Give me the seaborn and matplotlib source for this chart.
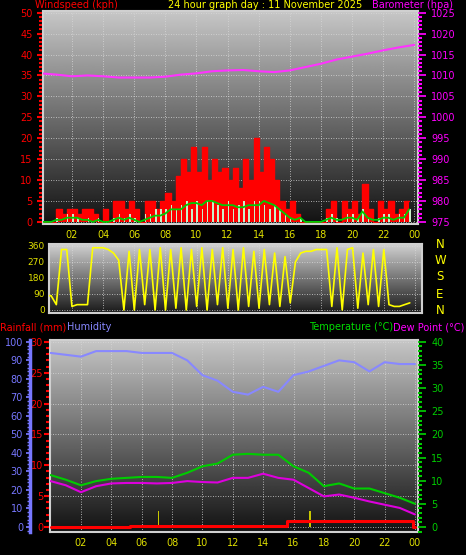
import numpy as np
import pandas as pd
import matplotlib
matplotlib.use("Agg")
import matplotlib.pyplot as plt
import seaborn as sns
from matplotlib.ticker import MultipleLocator

sns.set_theme(style="dark")
plt.rcParams['font.family'] = ['DejaVu Sans']

# ---- data ----
wind_hours = [i / 3 for i in range(72)]
gust = [0,0,0, 3,2,3, 3,2,3, 3,2,0, 3,0,5, 5,3,5, 3,0,5, 5,3,5,
        7,5,11, 15,12,18, 12,18,10, 15,12,13, 10,13,8, 15,10,20,
        12,18,15, 10,5,3, 5,2,0, 0,0,0, 0,3,5, 0,5,3, 5,2,9, 3,0,5,
        3,5,2, 3,5,5]
avg_wind = [0,0,0, 0.5,0.5,1, 1,1,0.5, 0.5,0,0.5, 0,0,0.5, 1,0.5,1, 0.5,0,0.5,
            1,1.5,1.5, 2,3,3, 3,4,4.5, 4.5,4,5, 5,4.5,4, 4,4,3.5, 3.5,4,4,
            4,5,4.5, 4,3,2, 1,0.5,1, 0,0,0, 0,0.5,1, 0.5,0.5,1, 1,0.5,2.5,
            1,0.5,0.5, 1,1,0.5, 1,1,3]
wind_speed = [0,0,0, 1,0,2, 2,1,0, 1,0,1, 0,0,1, 2,1,2, 1,0,2, 2,3,3,
              3,4,3, 4,5,3, 5,3,5, 5,4,3, 5,3,4, 5,3,5, 5,4,3, 4,3,2,
              1,0,1, 0,0,0, 0,1,2, 1,0,2, 2,1,3, 1,0,1, 2,2,0, 2,2,3]
direction = [80,80,80, 30,340,340, 20,30,30, 30,350,350, 350,340,320, 280,0,330,
             0,340,30, 340,0,350, 0,340,10, 350,0,340, 20,350,0, 340,30,350,
             10,340,0, 350,20,330, 10,340,30, 320,20,300, 40,270,320, 330,330,340,
             340,340,20, 350,0,340, 350,10,320, 30,340,20, 340,30,20, 20,30,40]
hours = list(range(25))
baro = [1010.5,1010.2,1009.8,1010,1009.8,1009.5,1009.5,1009.5,1009.7,1010.2,1010.5,
        1011,1011.2,1011.3,1011,1010.8,1011.2,1012,1012.8,1013.8,1014.5,1015.2,
        1016,1016.7,1017.3]
humidity = [94,93,92,95,95,95,94,94,94,90,82,79,73,71.5,75.7,73,82,84,87,90,89,84,89,88,88]
temperature = [11.2,10.2,9,9.9,10.4,10.6,10.8,10.8,10.6,11.7,13.1,13.7,15.6,15.8,15.6,
               15.6,13.1,11.7,8.8,9.4,8.3,8.3,7.3,6.3,5.0]
dew_point = [9.9,9,7.5,8.8,9.4,9.5,9.5,9.4,9.5,9.9,9.7,9.6,10.6,10.6,11.5,10.6,10.2,
             8.4,6.6,7,6.3,5.5,4.8,4.1,2.7]
rain_hours = [0, 5.2, 15.6, 23.9, 24]
rainfall = [0, 0.1, 1.0, 0, 0]
rate_hours = [7.1, 17.1]
rain_rate = [2.5, 2.5]

hour_ticks = list(range(2, 25, 2))
hour_labels = ["02","04","06","08","10","12","14","16","18","20","22","00"]

W, H = 466, 555
fig = plt.figure(figsize=(W/100, H/100), dpi=100, facecolor="black")

def pos(x0, y0, x1, y1):
    return [x0/W, 1 - y1/H, (x1-x0)/W, (y1-y0)/H]

grad = np.linspace(0, 1, 256).reshape(-1, 1)

def style(ax, lo=0.07, hi=0.78):
    ax.set_facecolor("black")
    ax.imshow(lo + (hi - lo) * grad, cmap="gray", vmin=0, vmax=1,
              extent=[0, 1, 0, 1], transform=ax.transAxes,
              aspect="auto", zorder=0, origin="lower")
    ax.grid(True, color="#d8d8d8", linestyle=(0, (1, 2)), linewidth=0.6, zorder=1)
    for s in ax.spines.values():
        s.set_color("#d0d0d0")
        s.set_linewidth(1.5)

def xhours(ax, top=False, color="#e0e000", show=True):
    ax.set_xticks(hour_ticks)
    ax.set_xticklabels(hour_labels if show else [], color=color, fontsize=7)
    ax.tick_params(axis="x", length=0, pad=4)
    if top:
        ax.xaxis.tick_top()

# ---- top panel ----
ax1 = fig.add_axes(pos(43, 11, 418, 224))
style(ax1)
ax1.set_xlim(0.135, 24.24)
ax1.set_ylim(-0.5, 50.4)
ax1.fill_between(wind_hours, gust, step="post", color="#ff0000", zorder=2, linewidth=0)
sns.lineplot(x=wind_hours, y=gust, drawstyle="steps-post", color="#ff0000", lw=1, ax=ax1, zorder=2)
ax1.bar(wind_hours, wind_speed, width=0.1, align="edge", color="#c8f0c8",
        edgecolor="none", linewidth=0, zorder=3)
sns.lineplot(x=wind_hours, y=avg_wind, color="#00cc00", lw=1.3, ax=ax1, zorder=4)
ax1.set_yticks(range(0, 51, 5))
ax1.yaxis.set_minor_locator(MultipleLocator(1))
ax1.tick_params(axis="y", which="both", colors="#ff0000", labelsize=7, labelcolor="#ff0000")
ax1.tick_params(axis="y", which="major", length=4, width=1.5)
ax1.tick_params(axis="y", which="minor", length=3, width=1.5)
xhours(ax1)
ax1b = ax1.twinx()
ax1b.set_ylim(974.5, 1025.4)
sns.lineplot(x=hours, y=baro, color="#ff33ff", lw=1.5, ax=ax1b)
ax1b.set_yticks(range(975, 1026, 5))
ax1b.yaxis.set_minor_locator(MultipleLocator(1))
ax1b.tick_params(axis="y", which="both", colors="#ff00ff", labelsize=7, labelcolor="#ff00ff")
ax1b.tick_params(axis="y", which="minor", length=3, width=1.5)
ax1b.grid(False)
for s in ax1b.spines.values():
    s.set_visible(False)
ax1b.set_xlim(0.135, 24.24)

fig.text(35/W, 1 - 5/H, "Windspeed (kph)", color="#ff0000", fontsize=7, va="center")
fig.text(265/W, 1 - 5/H, "24 hour graph day : 11 November 2025", color="#ffff00",
         fontsize=7, va="center", ha="center")
fig.text(372/W, 1 - 5/H, "Barometer (hpa)", color="#ff00ff", fontsize=7, va="center")

# ---- direction panel ----
ax2 = fig.add_axes(pos(49, 244, 422, 313))
style(ax2, 0.1, 0.82)
ax2.set_xlim(0.53, 24.45)
ax2.set_ylim(-17, 371)
sns.lineplot(x=wind_hours, y=direction, color="#ffff00", lw=1.2, ax=ax2, zorder=3)
ax2.set_yticks([0, 90, 180, 270, 360])
ax2.tick_params(axis="y", colors="#e0e000", labelsize=6.5, length=0, pad=3)
xhours(ax2, top=True, show=False)
for lab, yy in zip(["N", "W", "S", "E", "N"], [244, 260, 277, 294, 311]):
    fig.text(440/W, 1 - yy/H, lab, color="#ffff00", fontsize=8.5, va="center", ha="center")

# ---- bottom panel ----
ax3 = fig.add_axes(pos(50, 340, 418, 532))
style(ax3)
ax3.set_xlim(-0.04, 24.2)
ax3.set_ylim(-1.1 * 30 / 40, 40.4 * 30 / 40)
sns.lineplot(x=rain_hours, y=rainfall, drawstyle="steps-post", color="#ff0000", lw=2.2, ax=ax3, zorder=5)
ax3.bar(rate_hours, rain_rate, width=0.1, color="#c8c800", edgecolor="none", linewidth=0, zorder=4)
ax3.set_yticks(range(0, 31, 5))
ax3.yaxis.set_minor_locator(MultipleLocator(1))
ax3.tick_params(axis="y", which="both", colors="#ff0000", labelsize=7, labelcolor="#ff0000", pad=1)
ax3.tick_params(axis="y", which="major", length=4, width=1.5)
ax3.tick_params(axis="y", which="minor", length=3, width=1.5)
xhours(ax3)

ax3h = ax3.twinx()
ax3h.set_xlim(-0.04, 24.2)
ax3h.set_ylim(-1.1 * 100 / 40, 40.4 * 100 / 40)
sns.lineplot(x=hours, y=humidity, color="#8888ff", lw=1.5, ax=ax3h)
ax3h.yaxis.tick_left()
ax3h.yaxis.set_label_position("left")
ax3h.spines["left"].set_position(("outward", 14.4))
ax3h.spines["left"].set_color("#7777ff")
ax3h.spines["left"].set_linewidth(2.5)
for k in ["right", "top", "bottom"]:
    ax3h.spines[k].set_visible(False)
ax3h.set_yticks(range(0, 101, 10))
ax3h.yaxis.set_minor_locator(MultipleLocator(2))
ax3h.tick_params(axis="y", which="both", colors="#7777ff", labelsize=7, labelcolor="#7777ff", pad=2)
ax3h.tick_params(axis="y", which="major", length=3)
ax3h.tick_params(axis="y", which="minor", length=2)
ax3h.grid(False)

ax3t = ax3.twinx()
ax3t.set_xlim(-0.04, 24.2)
ax3t.set_ylim(-1.1, 40.4)
sns.lineplot(x=hours, y=temperature, color="#00cc00", lw=1.5, ax=ax3t)
sns.lineplot(x=hours, y=dew_point, color="#dd00dd", lw=1.5, ax=ax3t)
ax3t.set_yticks(range(0, 41, 5))
ax3t.yaxis.set_minor_locator(MultipleLocator(1))
ax3t.tick_params(axis="y", which="both", colors="#00cc00", labelsize=7, labelcolor="#00cc00")
ax3t.tick_params(axis="y", which="minor", length=3, width=1.5)
ax3t.grid(False)
for s in ax3t.spines.values():
    s.set_visible(False)
for a in (ax1, ax2, ax3, ax1b, ax3h, ax3t):
    a.set_ylabel("")

fig.text(0/W, 1 - 327/H, "Rainfall (mm)", color="#ff0000", fontsize=7, va="center")
fig.text(67/W, 1 - 327/H, "Humidity", color="#8888ff", fontsize=7, va="center")
fig.text(393/W, 1 - 327/H, "Temperature (°C)", color="#00dd00", fontsize=7, va="center", ha="right")
fig.text(464/W, 1 - 327/H, "Dew Point (°C)", color="#ff00ff", fontsize=7, va="center", ha="right")

fig.savefig("out.png", dpi=100, facecolor="black")
